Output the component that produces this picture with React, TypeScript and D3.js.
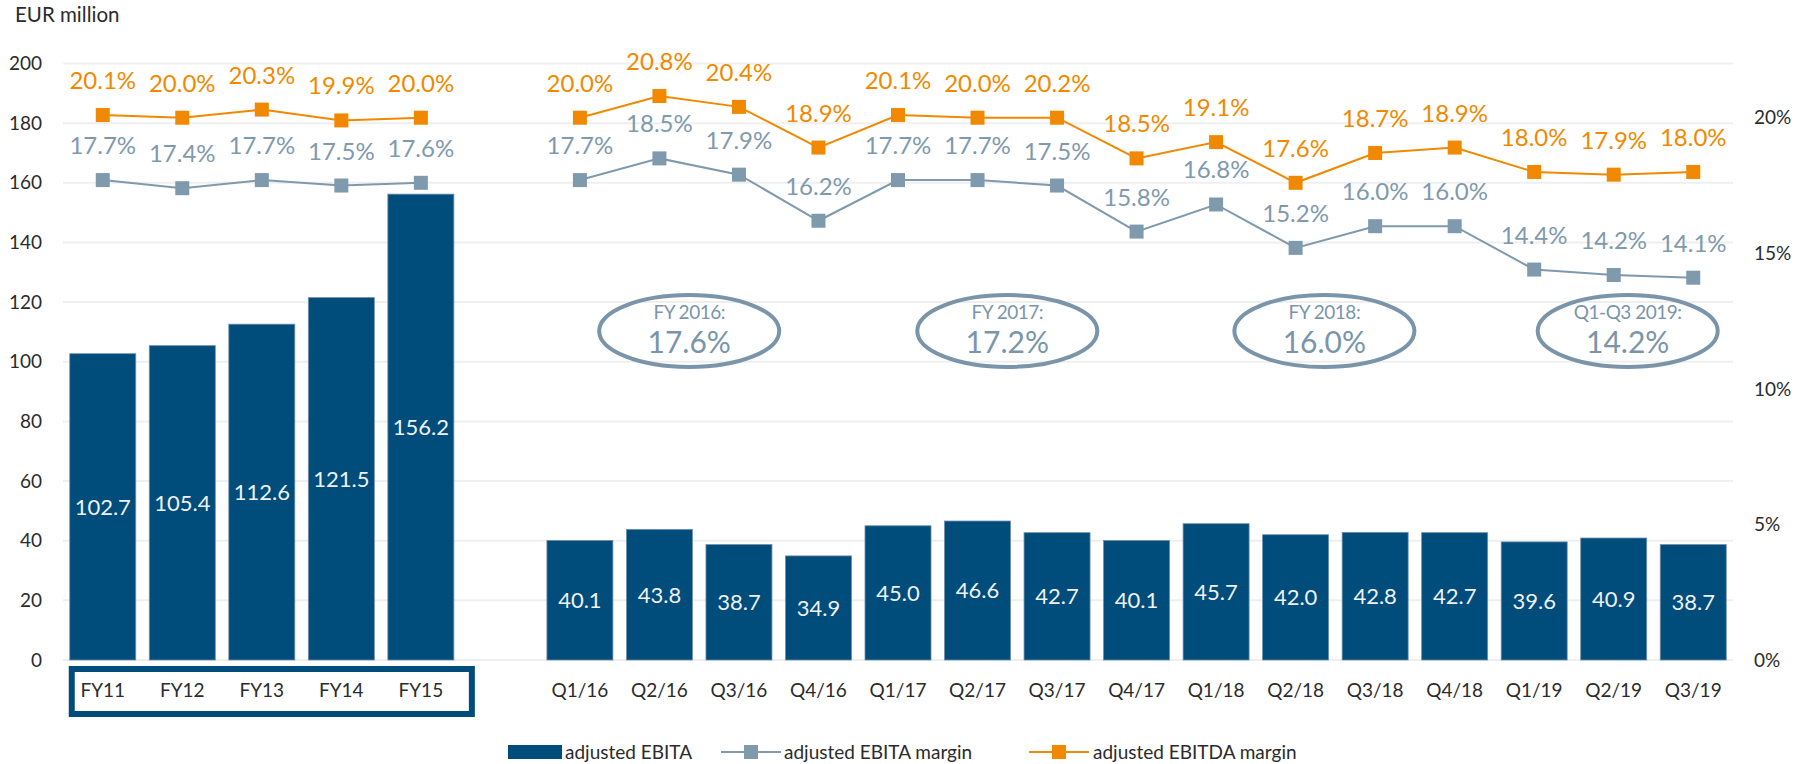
import React from "react";
import * as d3 from "d3";

const fyCategories = ["FY11", "FY12", "FY13", "FY14", "FY15"];
const qCategories = [
  "Q1/16", "Q2/16", "Q3/16", "Q4/16",
  "Q1/17", "Q2/17", "Q3/17", "Q4/17",
  "Q1/18", "Q2/18", "Q3/18", "Q4/18",
  "Q1/19", "Q2/19", "Q3/19",
];
const fyEbita = [102.7, 105.4, 112.6, 121.5, 156.2];
const qEbita = [40.1, 43.8, 38.7, 34.9, 45.0, 46.6, 42.7, 40.1, 45.7, 42.0, 42.8, 42.7, 39.6, 40.9, 38.7];
const fyEbitaMargin = [17.7, 17.4, 17.7, 17.5, 17.6];
const qEbitaMargin = [17.7, 18.5, 17.9, 16.2, 17.7, 17.7, 17.5, 15.8, 16.8, 15.2, 16.0, 16.0, 14.4, 14.2, 14.1];
const fyEbitdaMargin = [20.1, 20.0, 20.3, 19.9, 20.0];
// plotted positions (Q3/17 marker sits at the Q2/17 level)
const qEbitdaMargin = [20.0, 20.8, 20.4, 18.9, 20.1, 20.0, 20.0, 18.5, 19.1, 17.6, 18.7, 18.9, 18.0, 17.9, 18.0];
// printed labels
const qEbitdaLabels = ["20.0%", "20.8%", "20.4%", "18.9%", "20.1%", "20.0%", "20.2%", "18.5%", "19.1%", "17.6%", "18.7%", "18.9%", "18.0%", "17.9%", "18.0%"];
const leftTicks = [0, 20, 40, 60, 80, 100, 120, 140, 160, 180, 200];
const rightTicks = [0, 5, 10, 15, 20];
const annotations = [
  { title: "FY 2016:", value: "17.6%", from: "Q1/16", to: "Q4/16", dx: -10 },
  { title: "FY 2017:", value: "17.2%", from: "Q1/17", to: "Q4/17", dx: -10 },
  { title: "FY 2018:", value: "16.0%", from: "Q1/18", to: "Q4/18", dx: -11 },
  { title: "Q1-Q3 2019:", value: "14.2%", from: "Q1/19", to: "Q3/19", dx: 14 },
];

const FONT = "Lato, 'Noto Sans', sans-serif";
const BAR = "#004c7b";
const GRAY = "#7f99ad";
const ORANGE = "#f18900";
const TEXT = "#2b2b2b";

export default function App() {
  const W = 1805, H = 764;
  const plotL = 63, plotR = 1733, plotTop = 63.5, plotBottom = 660;
  const domain = [...fyCategories, "_gap", ...qCategories];
  const x = d3.scaleBand<string>().domain(domain).range([plotL, plotR]).paddingInner(0.17).paddingOuter(0.085);
  const bw = x.bandwidth();
  const cx = (c: string) => (x(c) as number) + bw / 2;
  const y = d3.scaleLinear().domain([0, 200]).range([plotBottom, plotTop]);
  const yr = d3.scaleLinear().domain([0, 22]).range([plotBottom, plotTop]);

  const line = d3.line<[number, number]>().x((d) => d[0]).y((d) => d[1]);

  const bars = [
    ...fyCategories.map((c, i) => ({ c, v: fyEbita[i] })),
    ...qCategories.map((c, i) => ({ c, v: qEbita[i] })),
  ];

  const pct = (v: number) => v.toFixed(1) + "%";
  const series = [
    {
      color: ORANGE,
      groups: [
        { cats: fyCategories, vals: fyEbitdaMargin, labels: fyEbitdaMargin.map(pct) },
        { cats: qCategories, vals: qEbitdaMargin, labels: qEbitdaLabels },
      ],
    },
    {
      color: GRAY,
      groups: [
        { cats: fyCategories, vals: fyEbitaMargin, labels: fyEbitaMargin.map(pct) },
        { cats: qCategories, vals: qEbitaMargin, labels: qEbitaMargin.map(pct) },
      ],
    },
  ];

  const boxX0 = (x("FY11") as number) - 1;
  const boxX1 = (x("FY15") as number) + bw + 21;

  return (
    <svg width={W} height={H} style={{ position: "absolute", left: 0, top: 0, background: "#fff" }} fontFamily={FONT}>
      {leftTicks.map((t) => (
        <line key={t} x1={plotL} x2={plotR} y1={y(t)} y2={y(t)} stroke="#efefef" strokeWidth={2} />
      ))}
      {leftTicks.map((t) => (
        <text key={"l" + t} x={42} y={y(t)} dy="0.35em" textAnchor="end" fontSize={19} fill={TEXT}>{t}</text>
      ))}
      {rightTicks.map((t) => (
        <text key={"r" + t} x={1754} y={yr(t)} dy="0.35em" textAnchor="start" fontSize={19} fill={TEXT}>{t}%</text>
      ))}
      <text x={15} y={22} fontSize={20.5} fill={TEXT}>EUR million</text>

      {bars.map((b) => (
        <g key={b.c}>
          <rect x={x(b.c)} y={y(b.v)} width={bw} height={y(0) - y(b.v)} fill={BAR} stroke="#6f8fab" strokeWidth={0.8} />
          <text x={cx(b.c)} y={(y(0) + y(b.v)) / 2} dy="0.36em" textAnchor="middle" fontSize={22} fill="#eef2f6">
            {b.v.toFixed(1)}
          </text>
        </g>
      ))}

      {[...fyCategories, ...qCategories].map((c) => (
        <text key={"c" + c} x={cx(c)} y={690} dy="0.35em" textAnchor="middle" fontSize={19} fill={TEXT}>{c}</text>
      ))}
      <rect x={boxX0 + 3} y={669} width={boxX1 - boxX0 - 6} height={45} fill="none" stroke={BAR} strokeWidth={6} />

      {series.map((s, si) => (
        <g key={si}>
          {s.groups.map((g, gi) => (
            <g key={gi}>
              <path d={line(g.cats.map((c, i) => [cx(c), yr(g.vals[i])])) || ""} fill="none" stroke={s.color} strokeWidth={2} />
              {g.cats.map((c, i) => (
                <g key={c}>
                  <rect x={cx(c) - 7} y={yr(g.vals[i]) - 7} width={14} height={14} fill={s.color} />
                  <text x={cx(c)} y={yr(g.vals[i]) - 26} textAnchor="middle" fontSize={24} fill={s.color}>
                    {g.labels[i]}
                  </text>
                </g>
              ))}
            </g>
          ))}
        </g>
      ))}

      {annotations.map((a) => {
        const mx = (cx(a.from) + cx(a.to)) / 2 + a.dx;
        return (
          <g key={a.title}>
            <ellipse cx={mx} cy={331} rx={90} ry={36} fill="none" stroke="#7a95aa" strokeWidth={4} />
            <text x={mx} y={312} dy="0.35em" textAnchor="middle" fontSize={19} fill="#7a95aa" letterSpacing={-0.5}>{a.title}</text>
            <text x={mx} y={342} dy="0.35em" textAnchor="middle" fontSize={30} fill="#7a95aa">{a.value}</text>
          </g>
        );
      })}

      <g>
        <rect x={508} y={745} width={54} height={14} fill={BAR} />
        <text x={565} y={752} dy="0.35em" fontSize={19} fill={TEXT}>adjusted EBITA</text>
        <line x1={721} x2={781} y1={752} y2={752} stroke={GRAY} strokeWidth={2} />
        <rect x={744} y={745} width={14} height={14} fill={GRAY} />
        <text x={784} y={752} dy="0.35em" fontSize={19} fill={TEXT}>adjusted EBITA margin</text>
        <line x1={1029} x2={1089} y1={752} y2={752} stroke={ORANGE} strokeWidth={2} />
        <rect x={1052} y={745} width={14} height={14} fill={ORANGE} />
        <text x={1093} y={752} dy="0.35em" fontSize={19} fill={TEXT}>adjusted EBITDA margin</text>
      </g>
    </svg>
  );
}
